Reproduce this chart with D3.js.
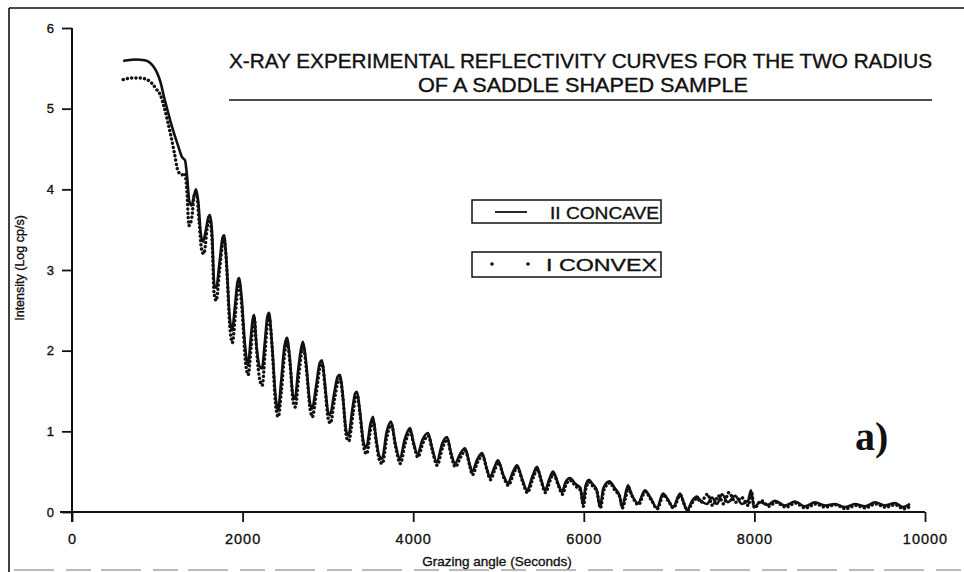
<!DOCTYPE html>
<html>
<head>
<meta charset="utf-8">
<script src="https://cdn.jsdelivr.net/npm/d3@7"></script>
<style>
  html, body { margin: 0; padding: 0; background: #fff; }
  svg { display: block; }
  text { font-family: "Liberation Sans", Arial, Helvetica, sans-serif; fill: #111; }
</style>
</head>
<body>
<svg id="chart" width="964" height="572"></svg>
<script>
// ---------------- DATA ----------------
const titleLines = ["X-RAY EXPERIMENTAL REFLECTIVITY CURVES FOR THE TWO RADIUS", "OF A SADDLE SHAPED SAMPLE"];
const xTicks = [0, 2000, 4000, 6000, 8000, 10000];
const yTicks = [0, 1, 2, 3, 4, 5, 6];
const xLabel = "Grazing angle (Seconds)";
const yLabel = "Intensity  (Log  cp/s)";
const seriesNames = ["II  CONCAVE", "I   CONVEX"];

// II CONCAVE (solid line): grazing angle (s)
const concaveX = [600,650,750,850,900,950,1000,1040,1080,1120,1160,1200,1250,1290,1325,1350,1375,1400,1430,1454,1480,1510,1535,1570,1600,1618,1640,1670,1690,1730,1765,1782,1805,1850,1876,1910,1940,1958,1985,2030,2063,2095,2120,2134,2160,2200,2227,2260,2290,2310,2340,2390,2415,2450,2490,2520,2550,2590,2614,2650,2690,2708,2740,2790,2814,2860,2905,2931,2960,3000,3025,3070,3115,3142,3170,3215,3240,3290,3320,3341,3370,3420,3450,3500,3529,3560,3600,3634,3690,3740,3790,3845,3900,3963,4000,4050,4110,4174,4220,4276,4340,4396,4440,4490,4550,4607,4660,4689,4750,4807,4860,4900,4950,4994,5060,5111,5170,5217,5280,5334,5400,5451,5500,5545,5600,5639,5700,5744,5790,5838,5900,5960,5990,6020,6060,6100,6150,6190,6230,6300,6360,6420,6448,6518,6560,6635,6717,6780,6858,6928,6990,7046,7128,7170,7210,7270,7327,7362,7444,7503,7562,7620,7690,7773,7855,7925,7960,7995,8066,8159,8241,8359,8476,8593,8710,8828,8945,9062,9179,9297,9414,9531,9648,9742,9824];
// II CONCAVE: intensity (log cp/s)
const concaveY = [5.59,5.60,5.61,5.60,5.58,5.53,5.44,5.32,5.14,4.98,4.82,4.68,4.52,4.40,4.36,4.15,3.85,3.80,3.92,4.00,3.85,3.45,3.35,3.50,3.66,3.68,3.50,2.80,2.78,3.10,3.40,3.43,3.20,2.40,2.25,2.55,2.85,2.90,2.70,2.05,1.82,2.15,2.40,2.44,2.10,1.80,1.78,2.10,2.42,2.47,2.15,1.40,1.26,1.60,2.05,2.16,1.95,1.45,1.40,1.75,2.05,2.11,1.90,1.35,1.28,1.55,1.85,1.88,1.65,1.25,1.20,1.45,1.68,1.70,1.50,1.00,0.95,1.30,1.47,1.49,1.30,0.85,0.80,1.10,1.18,0.95,0.70,0.66,1.00,1.12,0.85,0.66,0.90,1.04,0.88,0.72,0.90,0.98,0.80,0.62,0.85,0.93,0.75,0.60,0.72,0.79,0.60,0.50,0.65,0.73,0.55,0.43,0.55,0.64,0.45,0.36,0.50,0.58,0.40,0.27,0.45,0.56,0.40,0.27,0.42,0.50,0.35,0.25,0.38,0.42,0.35,0.30,0.09,0.32,0.40,0.35,0.28,0.06,0.30,0.38,0.30,0.20,0.06,0.33,0.22,0.11,0.27,0.18,0.05,0.23,0.15,0.06,0.23,0.12,0.02,0.14,0.19,0.15,0.10,0.18,0.10,0.22,0.12,0.20,0.10,0.14,0.27,0.06,0.12,0.09,0.14,0.08,0.13,0.07,0.12,0.08,0.10,0.06,0.10,0.07,0.12,0.08,0.11,0.06,0.10];

// I CONVEX (dots): grazing angle (s)
const convexX = [600,700,800,880,940,990,1040,1080,1120,1160,1200,1245,1290,1320,1348,1370,1400,1440,1460,1490,1520,1545,1590,1615,1645,1665,1690,1730,1770,1785,1810,1850,1880,1915,1945,1960,1990,2035,2065,2100,2125,2138,2165,2205,2230,2265,2292,2312,2345,2390,2418,2455,2495,2522,2555,2595,2618,2655,2695,2712,2745,2795,2818,2865,2910,2935,2965,3005,3030,3075,3120,3145,3175,3220,3245,3295,3325,3345,3375,3425,3455,3505,3532,3565,3605,3638,3695,3745,3795,3850,3905,3966,4005,4055,4115,4178,4225,4280,4345,4400,4445,4495,4555,4610,4665,4693,4755,4810,4865,4905,4955,4998,5065,5115,5175,5220,5285,5338,5405,5455,5505,5550,5605,5643,5705,5750,5795,5842,5905,5965,5995,6025,6065,6105,6155,6195,6235,6305,6365,6425,6452,6495,6522,6565,6640,6720,6785,6862,6932,6995,7050,7132,7175,7215,7275,7330,7370,7450,7510,7580,7640,7700,7780,7850,7930,7965,8000,8080,8170,8250,8370,8480,8600,8720,8830,8950,9070,9190,9300,9420,9540,9650,9750,9830];
// I CONVEX: intensity (log cp/s)
const convexY = [5.36,5.38,5.38,5.36,5.31,5.24,5.16,5.02,4.85,4.66,4.45,4.22,4.18,4.20,3.97,3.55,3.62,3.95,3.95,3.60,3.25,3.20,3.55,3.62,3.30,2.72,2.62,3.00,3.35,3.38,3.10,2.30,2.10,2.45,2.78,2.85,2.55,1.85,1.70,2.05,2.35,2.40,2.00,1.62,1.57,2.00,2.35,2.42,2.05,1.30,1.18,1.50,1.98,2.10,1.85,1.35,1.30,1.65,2.00,2.05,1.80,1.25,1.18,1.48,1.80,1.83,1.55,1.15,1.10,1.38,1.62,1.65,1.42,0.92,0.88,1.22,1.42,1.44,1.22,0.78,0.72,1.05,1.12,0.88,0.64,0.60,0.95,1.08,0.80,0.60,0.85,1.00,0.84,0.68,0.86,0.94,0.76,0.58,0.80,0.90,0.70,0.56,0.68,0.76,0.56,0.46,0.62,0.70,0.52,0.40,0.52,0.61,0.42,0.33,0.47,0.55,0.37,0.24,0.42,0.53,0.37,0.24,0.39,0.47,0.32,0.22,0.35,0.39,0.32,0.26,0.07,0.29,0.37,0.32,0.25,0.05,0.27,0.36,0.27,0.18,0.05,0.20,0.30,0.20,0.09,0.25,0.16,0.04,0.21,0.13,0.05,0.21,0.10,0.02,0.12,0.17,0.12,0.22,0.08,0.20,0.10,0.24,0.12,0.18,0.08,0.25,0.05,0.14,0.07,0.12,0.06,0.11,0.05,0.10,0.06,0.09,0.04,0.08,0.05,0.10,0.06,0.09,0.04,0.07];

const panelLabel = "a)";

// ---------------- CHART ----------------
const svg = d3.select("#chart");
const x = d3.scaleLinear().domain([0, 10000]).range([72, 925]);
const y = d3.scaleLinear().domain([0, 6]).range([512, 28]);

// outer frame
svg.append("line").attr("x1", 9).attr("x2", 964).attr("y1", 8).attr("y2", 8)
  .attr("stroke", "#111").attr("stroke-width", 1.6);
svg.append("line").attr("x1", 9).attr("x2", 9).attr("y1", 8).attr("y2", 572)
  .attr("stroke", "#111").attr("stroke-width", 1.6);
svg.append("line").attr("x1", 14).attr("x2", 964).attr("y1", 570).attr("y2", 570)
  .attr("stroke", "#bbb").attr("stroke-width", 2).attr("stroke-dasharray", "40 12 25 10");

const inkText = sel => sel.attr("stroke", "#111").attr("stroke-width", 0.35);

// axes
const xAxis = d3.axisBottom(x).tickValues(xTicks).tickSize(10).tickSizeOuter(0).tickFormat(d3.format("d"));
const gx = svg.append("g").attr("transform", `translate(0,${y(0)})`).call(xAxis);
gx.select(".domain").attr("d", `M60,0H${x(10000)}`).attr("stroke", "#111").attr("stroke-width", 2);
gx.selectAll(".tick line").attr("stroke", "#111").attr("stroke-width", 1.8);
gx.selectAll(".tick text").attr("y", 22).attr("font-size", 14.5).attr("letter-spacing", 1)
  .attr("fill", "#111").style("font-family", "'Liberation Sans', Arial, sans-serif").call(inkText);

const yAxis = d3.axisLeft(y).tickValues(yTicks).tickSize(10).tickSizeOuter(0).tickFormat(d3.format("d"));
const gy = svg.append("g").attr("transform", `translate(${x(0)},0)`).call(yAxis);
gy.select(".domain").attr("d", `M0,${y(6)}V${y(0) + 10}`).attr("stroke", "#111").attr("stroke-width", 2);
gy.selectAll(".tick line").attr("stroke", "#111").attr("stroke-width", 1.8);
gy.selectAll(".tick text").attr("x", -18).attr("font-size", 13)
  .attr("fill", "#111").style("font-family", "'Liberation Sans', Arial, sans-serif").call(inkText);

// axis titles
svg.append("text").attr("x", 497).attr("y", 566).attr("text-anchor", "middle")
  .attr("font-size", 13.5).text(xLabel).call(inkText);
svg.append("text").attr("transform", `translate(24,268) rotate(-90)`).attr("text-anchor", "middle")
  .attr("font-size", 12.5).text(yLabel).call(inkText);

// title
svg.append("text").attr("x", 229).attr("y", 68).attr("font-size", 19.5)
  .attr("textLength", 703).attr("lengthAdjust", "spacingAndGlyphs").text(titleLines[0]).call(inkText);
svg.append("text").attr("x", 418).attr("y", 92).attr("font-size", 19.5)
  .attr("textLength", 330).attr("lengthAdjust", "spacingAndGlyphs").text(titleLines[1]).call(inkText);
svg.append("line").attr("x1", 229).attr("x2", 932).attr("y1", 100).attr("y2", 100)
  .attr("stroke", "#111").attr("stroke-width", 1.6);

// data
const concave = concaveX.map((v, i) => [v, concaveY[i]]);
const convex = convexX.map((v, i) => [v, convexY[i]]);
const line = d3.line().x(d => x(d[0])).y(d => y(d[1])).curve(d3.curveMonotoneX);

svg.append("path").datum(concave).attr("d", line)
  .attr("fill", "none").attr("stroke", "#111").attr("stroke-width", 2.6).attr("stroke-linejoin", "round");
svg.append("path").datum(convex).attr("d", line)
  .attr("fill", "none").attr("stroke", "#111").attr("stroke-width", 3.4)
  .attr("stroke-linecap", "round").attr("stroke-dasharray", "0.1 4.2");

// legend
const lg = svg.append("g");
lg.append("rect").attr("x", 472).attr("y", 200).attr("width", 189).attr("height", 23)
  .attr("fill", "#fff").attr("stroke", "#111").attr("stroke-width", 1.5);
lg.append("line").attr("x1", 495).attr("x2", 527).attr("y1", 212).attr("y2", 212)
  .attr("stroke", "#111").attr("stroke-width", 1.8);
lg.append("text").attr("x", 550).attr("y", 218.5).attr("font-size", 16.5)
  .attr("textLength", 109).attr("lengthAdjust", "spacingAndGlyphs").text(seriesNames[0]).call(inkText);

lg.append("rect").attr("x", 472).attr("y", 252).attr("width", 189).attr("height", 25)
  .attr("fill", "#fff").attr("stroke", "#111").attr("stroke-width", 1.5);
lg.selectAll("circle.leg").data([492, 528]).enter().append("circle")
  .attr("cx", d => d).attr("cy", 264).attr("r", 1.8).attr("fill", "#111");
lg.append("text").attr("x", 546).attr("y", 271).attr("font-size", 16.5)
  .attr("textLength", 111).attr("lengthAdjust", "spacingAndGlyphs").text(seriesNames[1]).call(inkText);

// panel label
svg.append("text").attr("x", 855).attr("y", 450).attr("font-size", 40).attr("font-weight", "bold")
  .style("font-family", "'Liberation Serif', 'Times New Roman', serif").text(panelLabel);
</script>
</body>
</html>
